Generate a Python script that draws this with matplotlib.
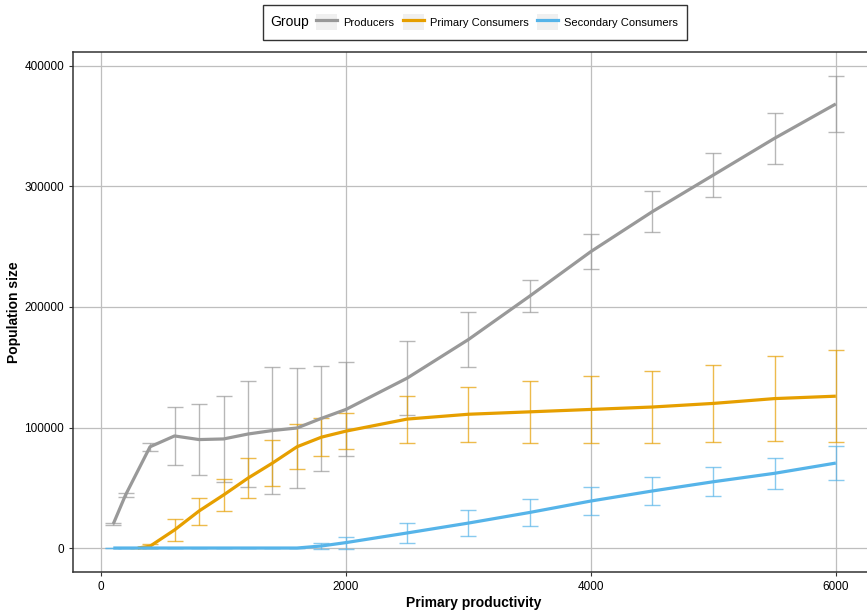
import numpy as np
import matplotlib.pyplot as plt
from matplotlib.lines import Line2D
from matplotlib.patches import Rectangle
from matplotlib.legend_handler import HandlerTuple

plt.rcParams['font.family'] = ['Liberation Sans', 'DejaVu Sans']

# Producers
prod_x = [100, 200, 400, 600, 800, 1000, 1200, 1400, 1600, 1800, 2000,
          2500, 3000, 3500, 4000, 4500, 5000, 5500, 6000]
prod_y = [20000, 44000, 84000, 93000, 90000, 90500, 94600, 97500, 99600, 107600, 115000,
          141000, 173000, 209000, 246000, 279000, 309500, 340000, 368500]
prod_err = [1000, 1500, 3500, 24000, 29500, 36000, 44000, 53000, 50000, 43500, 39000,
            30500, 22500, 13000, 14500, 17000, 18500, 21000, 23500]

# Primary consumers
prim_x = [300, 400, 600, 800, 1000, 1200, 1400, 1600, 1800, 2000,
          2500, 3000, 3500, 4000, 4500, 5000, 5500, 6000]
prim_y = [0, 1500, 15000, 30700, 44000, 58000, 70500, 84000, 92000, 97000,
          107000, 111000, 113000, 115000, 117000, 120000, 124000, 126000]
prim_err = [0, 1500, 9200, 11200, 13500, 16500, 19000, 18500, 15500, 15000,
            19500, 23000, 26000, 28000, 29500, 32000, 35500, 38000]

# Secondary consumers
sec_x = [100, 200, 400, 600, 800, 1000, 1200, 1400, 1600, 1800, 2000,
         2500, 3000, 3500, 4000, 4500, 5000, 5500, 6000]
sec_y = [0, 0, 0, 0, 0, 0, 0, 0, 0, 1700, 4500,
         12500, 20700, 29500, 39000, 47300, 55000, 62000, 70500]
sec_err = [0, 0, 0, 0, 0, 0, 0, 0, 0, 2500, 5000,
           8500, 10500, 11000, 11500, 12000, 12000, 13000, 14000]

groups = ['Producers', 'Primary Consumers', 'Secondary Consumers']
colors = ['#999999', '#E69F00', '#56B4E9']
series = [(prod_x, prod_y, prod_err), (prim_x, prim_y, prim_err), (sec_x, sec_y, sec_err)]

fig = plt.figure(figsize=(8.67, 6.12), dpi=100)
ax = fig.add_axes([73 / 867, 40 / 612, (875 - 73) / 867, 520 / 612])

for (x, y, e), c in zip(series, colors):
    ax.errorbar(x, y, yerr=e, fmt='none', ecolor=c, elinewidth=1.0,
                capsize=6, capthick=1.0, alpha=0.7, zorder=2)
    ax.plot(x, y, color=c, lw=2.3, zorder=3, solid_capstyle='butt')

ax.set_xlim(-229, 6320)
ax.set_ylim(-19900, 411600)
ax.set_xticks([0, 2000, 4000, 6000])
ax.set_yticks([0, 100000, 200000, 300000, 400000])
ax.grid(True, color='#bebebe', lw=0.9)
ax.set_axisbelow(True)
for s in ax.spines.values():
    s.set_color('#333333')
    s.set_linewidth(1.1)
ax.tick_params(labelsize=8.5, colors='#333333', labelcolor='black', length=3, width=0.8)
ax.set_xlabel('Primary productivity', fontsize=10, fontweight='bold', labelpad=2)
ax.set_ylabel('Population size', fontsize=10, fontweight='bold', labelpad=2)

handles = [(Rectangle((0, 0), 1, 1, facecolor='#f0f0f0', edgecolor='none'),
            Line2D([], [], color=c, lw=2.3)) for c in colors]
leg = fig.legend(handles, groups, loc='center', bbox_to_anchor=(497 / 867, 1 - 22 / 612),
                 ncol=3, frameon=False, fontsize=8, handlelength=1.9, handleheight=1.9,
                 handletextpad=0.5, columnspacing=0.8,
                 handler_map={tuple: HandlerTuple(ndivide=1, pad=0)})
fig.text(270 / 867, 1 - 22 / 612, 'Group', fontsize=10, va='center', ha='left')
fig.patches.append(Rectangle((263 / 867, 1 - 40 / 612), 424 / 867, 35 / 612,
                             transform=fig.transFigure, fill=False,
                             edgecolor='#333333', lw=1.0))

fig.savefig('out.png', dpi=100)
